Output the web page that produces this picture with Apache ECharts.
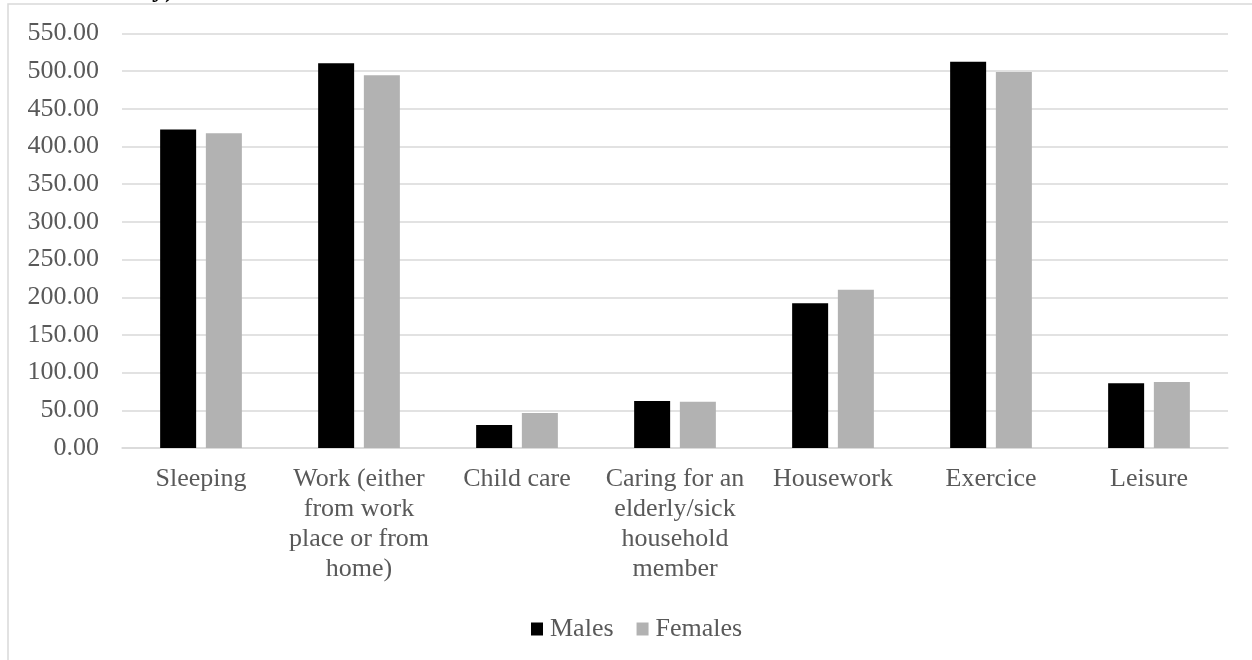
<!DOCTYPE html>
<html>
<head>
<meta charset="utf-8">
<script src="https://cdn.jsdelivr.net/npm/echarts@6/dist/echarts.min.js"></script>
<style>
  html, body { margin: 0; padding: 0; background: #ffffff; }
  #chart { width: 1252px; height: 660px; }
</style>
</head>
<body>
<div id="chart"></div>
<script>
// Activities (category axis), line breaks as they appear under the axis
const categories = [
  'Sleeping',
  'Work (either\nfrom work\nplace or from\nhome)',
  'Child care',
  'Caring for an\nelderly/sick\nhousehold\nmember',
  'Housework',
  'Exercice',
  'Leisure'
];

// Average minutes per activity
const males   = [422.5, 510.5, 30.5, 62.5, 192.0, 512.5, 86.0];
const females = [417.5, 494.5, 46.5, 61.5, 210.0, 499.0, 87.5];

// Value-axis ticks
const yTicks = [0, 50, 100, 150, 200, 250, 300, 350, 400, 450, 500, 550];

const FONT = '"Liberation Serif", "Times New Roman", serif';
const TEXT = '#595959';
const GRID = '#d9d9d9';

const chart = echarts.init(document.getElementById('chart'), null, { renderer: 'canvas' });

chart.setOption({
  animation: false,
  backgroundColor: '#ffffff',
  textStyle: { fontFamily: FONT },
  // tail of the heading line above the frame
  title: {
    text: 'y)',
    left: 152,
    top: -23,
    padding: 0,
    textStyle: { fontFamily: FONT, fontWeight: 'bold', fontSize: 26, color: '#000000' }
  },
  graphic: [
    {
      type: 'rect',
      shape: { x: 8, y: 4, width: 1260, height: 680 },
      style: { fill: 'none', stroke: GRID, lineWidth: 1.5 },
      silent: true
    }
  ],
  grid: { left: 122, right: 24, top: 33.5, bottom: 212, containLabel: false },
  legend: {
    data: ['Males', 'Females'],
    left: 526,
    top: 611,
    itemWidth: 12,
    itemHeight: 13,
    itemGap: 23,
    icon: 'rect',
    textStyle: { color: TEXT, fontSize: 26, fontFamily: FONT, padding: [0, 0, 0, 2] }
  },
  xAxis: {
    type: 'category',
    data: categories,
    axisLine: { show: true, lineStyle: { color: GRID, width: 1.5 } },
    axisTick: { show: false },
    axisLabel: {
      interval: 0,
      margin: 16,
      color: TEXT,
      fontSize: 26,
      lineHeight: 30,
      fontFamily: FONT,
      align: 'center'
    }
  },
  yAxis: {
    type: 'value',
    min: yTicks[0],
    max: yTicks[yTicks.length - 1],
    interval: yTicks[1] - yTicks[0],
    axisLine: { show: false },
    axisTick: { show: false },
    splitLine: { lineStyle: { color: GRID, width: 1.5 } },
    axisLabel: {
      margin: 23,
      color: TEXT,
      fontSize: 26,
      fontFamily: FONT,
      formatter: v => v.toFixed(2)
    }
  },
  series: [
    {
      name: 'Males',
      type: 'bar',
      data: males,
      barWidth: 36,
      barGap: '27%',
      itemStyle: { color: '#000000' }
    },
    {
      name: 'Females',
      type: 'bar',
      data: females,
      barWidth: 36,
      itemStyle: { color: '#b2b2b2' }
    }
  ]
});
</script>
</body>
</html>
